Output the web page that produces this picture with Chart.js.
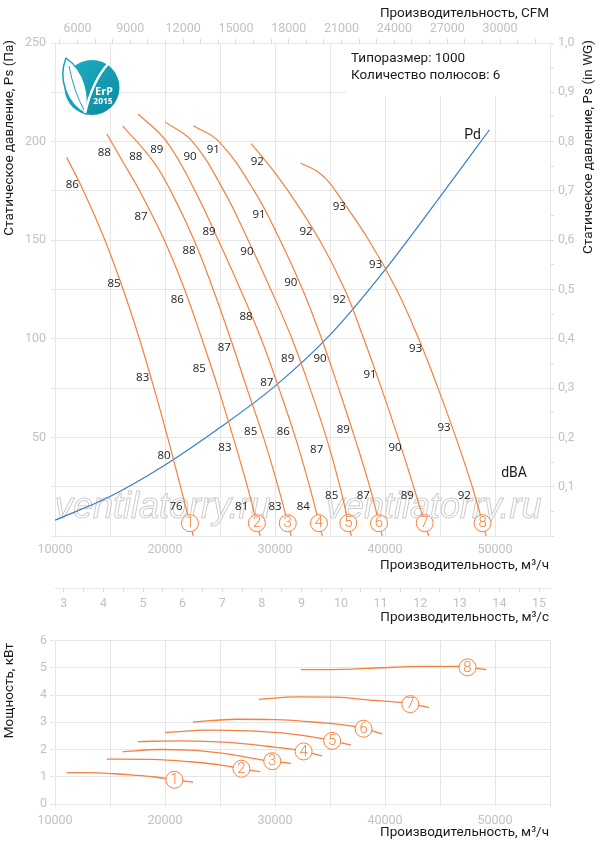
<!DOCTYPE html>
<html>
<head>
<meta charset="utf-8">
<script src="https://cdn.jsdelivr.net/npm/chart.js@4.4.0/dist/chart.umd.min.js"></script>
<style>
  html, body { margin: 0; padding: 0; background: #fff; }
  #wrap { position: relative; width: 597px; height: 850px; overflow: hidden; }
  #pressure { position: absolute; left: 0; top: 0; }
  #power { position: absolute; left: 0; top: 630px; }
</style>
</head>
<body>
<div id="wrap">
  <canvas id="pressure" width="597" height="630"></canvas>
  <canvas id="power" width="597" height="220"></canvas>
</div>
<script>
// --- data ---
// static pressure curves 1..8: flow, m3/h  and  Ps, Pa
var curveQ = [
  [11060, 12590, 14540, 16200, 17670, 19000, 20240, 21410, 22570],
  [14700, 16140, 17700, 19940, 21780, 23350, 24830, 26200, 27490, 28650],
  [16150, 18930, 20520, 22650, 24380, 25960, 27440, 28950, 30280, 31470],
  [17570, 20150, 22730, 24850, 26860, 28740, 30350, 31850, 33150, 34300],
  [20000, 22500, 25350, 27560, 29620, 31540, 33170, 34660, 35910, 36930],
  [22570, 24910, 28110, 30470, 32510, 34240, 35770, 37240, 38610, 39750],
  [27820, 29180, 31190, 34060, 36340, 38070, 39670, 41180, 42600, 43970],
  [32340, 33820, 34820, 35500, 38530, 41050, 43060, 44820, 46440, 47930, 49200]
];
var curvePa = [
  [192, 175, 150, 125, 100, 75, 50, 25, 0],
  [204, 190, 175, 150, 125, 100, 75, 50, 25, 0],
  [208, 190, 175, 150, 125, 100, 75, 50, 25, 0],
  [214, 200, 175, 150, 125, 100, 75, 50, 25, 0],
  [210, 200, 175, 150, 125, 100, 75, 50, 25, 0],
  [208, 200, 175, 150, 125, 100, 75, 50, 25, 0],
  [199, 190, 175, 150, 125, 100, 75, 50, 25, 0],
  [189, 185, 180, 175, 150, 125, 100, 75, 50, 25, 0]
];

// dynamic pressure Pd
var pdQ = [10000, 15000, 20000, 25000, 30000, 35000, 40000, 45000, 49500];
var pdPa = [8, 20, 36, 55, 76, 102, 135, 172, 206];

// noise level labels along each curve (flow, Pa, dBA)
var dbaQ = [
  [11570, 15360, 17970, 19910, 21000],
  [14480, 17820, 21120, 23120, 25450, 26970],
  [17340, 22180, 25390, 27790, 30000],
  [19250, 24000, 27360, 29250, 30750, 32570],
  [22270, 27450, 31150, 33790, 35150],
  [24390, 28550, 31430, 34090, 36210, 38030],
  [28390, 32820, 35850, 38640, 40910, 42030],
  [35850, 39150, 42790, 45360, 47210]
];
var dbaPa = [
  [178, 128, 80.5, 40.5, 15],
  [194.5, 162, 120, 85, 45, 15],
  [192.5, 144.5, 95.5, 53, 15],
  [196, 154.5, 111, 77.5, 53, 15],
  [192.5, 144, 90, 43.5, 20.5],
  [196, 163, 128.5, 90, 54, 20.5],
  [190, 154.5, 120, 82, 45, 20.5],
  [167, 137.5, 95, 55, 20.5]
];
var dbaLevel = [
  [86, 85, 83, 80, 76],
  [88, 87, 86, 85, 83, 81],
  [88, 88, 87, 85, 83],
  [89, 89, 88, 87, 86, 84],
  [90, 90, 89, 87, 85],
  [91, 91, 90, 90, 89, 87],
  [92, 92, 92, 91, 90, 89],
  [93, 93, 93, 93, 92]
];

// power curves 1..8: flow, m3/h  and  kW
var powerQ = [
  [11050, 13000, 15400, 17100, 18850, 20850, 22550],
  [14700, 18850, 22300, 25100, 27550, 28650],
  [16150, 19550, 22300, 25800, 28900, 31450],
  [17550, 21650, 25800, 29250, 32050, 34300],
  [20000, 24050, 27550, 31000, 34300, 36900],
  [22550, 26500, 29950, 33800, 37450, 39750],
  [28550, 32050, 35500, 39000, 41400, 44000],
  [32350, 36200, 39700, 43150, 46800, 49200]
];
var powerKw = [
  [1.15, 1.15, 1.11, 1.06, 1.00, 0.89, 0.80],
  [1.65, 1.64, 1.55, 1.43, 1.25, 1.18],
  [1.92, 2.00, 1.98, 1.83, 1.61, 1.49],
  [2.29, 2.32, 2.26, 2.12, 1.98, 1.77],
  [2.62, 2.71, 2.68, 2.59, 2.40, 2.16],
  [3.01, 3.11, 3.10, 3.00, 2.83, 2.57],
  [3.84, 3.93, 3.92, 3.80, 3.73, 3.54],
  [4.93, 4.94, 5.00, 5.05, 5.05, 4.93]
];

// tick labels
var flowTicks = [10000, 20000, 30000, 40000, 50000];
var cfmTicks = [6000, 9000, 12000, 15000, 18000, 21000, 24000, 27000, 30000];
var cfmRange = [4720, 32840];
var m3sTicks = [3, 4, 5, 6, 7, 8, 9, 10, 11, 12, 13, 14, 15];
var paTicks = [50, 100, 150, 200, 250];
var wgTicks = [0.1, 0.2, 0.3, 0.4, 0.5, 0.6, 0.7, 0.8, 0.9, 1.0];
var kwTicks = [0, 1, 2, 3, 4, 5, 6];

// --- styles ---
var orange = '#f5813f';
var blue = '#3a7dc6';
var gridColor = '#e6e6e6';
var tickColor = '#c2c2c2';
var textColor = '#1b1b1b';
var tickFont = { family: 'Roboto', size: 12.5 };

Chart.defaults.font.family = 'Roboto';

function stepTicks(from, to, step) {
  var out = [];
  for (var i = 0; from + i * step <= to + 1e-9; i++) {
    out.push({ value: Math.round((from + i * step) * 1000) / 1000 });
  }
  return out;
}
function hasTick(list, v) {
  return list.some(function (t) { return Math.abs(t - v) < 1e-6; });
}
function points(qs, vs) {
  return qs.map(function (q, j) { return { x: q, y: vs[j] }; });
}
function qAtPa(qs, ps, p) {
  for (var j = 1; j < ps.length; j++) {
    if (ps[j - 1] >= p && ps[j] <= p) {
      return qs[j - 1] + (qs[j] - qs[j - 1]) * (ps[j - 1] - p) / (ps[j - 1] - ps[j]);
    }
  }
  return qs[qs.length - 1];
}
function valAtQ(qs, vs, q) {
  for (var j = 1; j < qs.length; j++) {
    if (qs[j] >= q) return vs[j - 1] + (vs[j] - vs[j - 1]) * (q - qs[j - 1]) / (qs[j] - qs[j - 1]);
  }
  return vs[vs.length - 1];
}
function drawMarker(ctx, x, y, n) {
  ctx.save();
  ctx.beginPath();
  ctx.arc(x, y, 8.5, 0, Math.PI * 2);
  ctx.fillStyle = '#fff';
  ctx.fill();
  ctx.lineWidth = 1;
  ctx.strokeStyle = orange;
  ctx.stroke();
  ctx.fillStyle = orange;
  ctx.font = '300 15px Roboto';
  ctx.textAlign = 'center';
  ctx.textBaseline = 'middle';
  ctx.fillText(String(n), x, y + 0.5);
  ctx.restore();
}
function hTitle(ctx, text, right, y) {
  ctx.save();
  ctx.font = '13.5px Roboto';
  ctx.fillStyle = textColor;
  ctx.textAlign = 'right';
  ctx.textBaseline = 'middle';
  ctx.fillText(text, right, y);
  ctx.restore();
}
function vTitle(ctx, text, x, top) {
  ctx.save();
  ctx.translate(x, top);
  ctx.rotate(-Math.PI / 2);
  ctx.font = '13.5px Roboto';
  ctx.fillStyle = textColor;
  ctx.textAlign = 'right';
  ctx.textBaseline = 'middle';
  ctx.fillText(text, 0, 0);
  ctx.restore();
}
function drawLogo(ctx) {
  ctx.save();
  var g = ctx.createLinearGradient(64, 60, 120, 115);
  g.addColorStop(0, '#1fb0c4');
  g.addColorStop(1, '#0b8aa0');
  ctx.beginPath();
  ctx.arc(92, 87.5, 27.5, 0, Math.PI * 2);
  ctx.fillStyle = g;
  ctx.fill();
  // leaf
  ctx.beginPath();
  ctx.moveTo(66, 58);
  ctx.bezierCurveTo(58, 78, 66, 104, 86, 114);
  ctx.bezierCurveTo(90, 96, 86, 72, 66, 58);
  ctx.fillStyle = '#fff';
  ctx.fill();
  ctx.lineWidth = 1.5;
  ctx.strokeStyle = '#17a3bb';
  ctx.stroke();
  ctx.beginPath();
  ctx.moveTo(69, 66);
  ctx.quadraticCurveTo(74, 92, 84, 110);
  ctx.lineWidth = 1;
  ctx.stroke();
  // white stem
  ctx.beginPath();
  ctx.moveTo(85, 113);
  ctx.bezierCurveTo(90, 92, 97, 76, 108, 64);
  ctx.lineWidth = 2.5;
  ctx.strokeStyle = '#fff';
  ctx.stroke();
  ctx.fillStyle = '#fff';
  ctx.textAlign = 'center';
  ctx.textBaseline = 'middle';
  ctx.font = 'bold 11px "Open Sans"';
  ctx.fillText('ErP', 104, 91.5);
  ctx.font = 'bold 8.5px "Open Sans"';
  ctx.fillText('2015', 103, 101.5);
  ctx.restore();
}

var pressureDecor = {
  id: 'pressureDecor',
  beforeDatasetsDraw: function (chart) {
    var ctx = chart.ctx;
    ctx.save();
    // info box
    ctx.fillStyle = '#fff';
    ctx.fillRect(346, 44, 203.5, 52);
    ctx.fillStyle = textColor;
    ctx.font = '13.5px Roboto';
    ctx.textAlign = 'left';
    ctx.textBaseline = 'middle';
    ctx.fillText('Типоразмер: 1000', 351, 59);
    ctx.fillText('Количество полюсов: 6', 351, 76);
    // watermark
    ctx.font = 'italic 36px "Liberation Sans"';
    ctx.textBaseline = 'alphabetic';
    ctx.lineWidth = 1;
    ctx.strokeStyle = '#cdcdcd';
    ctx.fillStyle = 'rgba(255,255,255,0.55)';
    [55, 326].forEach(function (x) {
      ctx.fillText('ventilatorry.ru', x, 518);
      ctx.strokeText('ventilatorry.ru', x, 518);
    });
    ctx.restore();
    drawLogo(ctx);
  },
  afterDatasetsDraw: function (chart) {
    var ctx = chart.ctx;
    var sx = chart.scales.x, sy = chart.scales.y;
    ctx.save();
    ctx.fillStyle = textColor;
    ctx.font = '11.5px "Open Sans"';
    ctx.textAlign = 'center';
    ctx.textBaseline = 'middle';
    dbaQ.forEach(function (qs, i) {
      qs.forEach(function (q, j) {
        ctx.fillText(String(dbaLevel[i][j]), sx.getPixelForValue(q), sy.getPixelForValue(dbaPa[i][j]));
      });
    });
    ctx.font = '14px Roboto';
    ctx.fillText('Pd', sx.getPixelForValue(47970), sy.getPixelForValue(203));
    ctx.fillText('dBA', sx.getPixelForValue(51730), sy.getPixelForValue(31.5));
    ctx.restore();
    curveQ.forEach(function (qs, i) {
      var q = qAtPa(qs, curvePa[i], 6.5);
      drawMarker(ctx, sx.getPixelForValue(q), sy.getPixelForValue(6.5), i + 1);
    });
  },
  afterDraw: function (chart) {
    var ctx = chart.ctx;
    hTitle(ctx, 'Производительность, CFM', 549, 14);
    hTitle(ctx, 'Производительность, м³/ч', 549, 566);
    hTitle(ctx, 'Производительность, м³/с', 549, 618);
    vTitle(ctx, 'Статическое давление, Ps (Па)', 10, 40);
    vTitle(ctx, 'Статическое давление, Ps (in WG)', 589, 40);
  }
};

var pressureSets = curveQ.map(function (qs, i) {
  return {
    data: points(qs, curvePa[i]),
    borderColor: orange, borderWidth: 1.2, pointRadius: 0,
    tension: 0.4, xAxisID: 'x', yAxisID: 'y'
  };
});
pressureSets.push({
  data: points(pdQ, pdPa),
  borderColor: blue, borderWidth: 1.2, pointRadius: 0,
  cubicInterpolationMode: 'monotone', xAxisID: 'x', yAxisID: 'y'
});

new Chart(document.getElementById('pressure'), {
  type: 'line',
  data: { datasets: pressureSets },
  options: {
    responsive: false,
    animation: false,
    parsing: false,
    layout: { padding: 0 },
    plugins: { legend: { display: false }, tooltip: { enabled: false } },
    scales: {
      x: {
        type: 'linear', position: 'bottom', weight: 0, min: 10000, max: 55000,
        afterBuildTicks: function (s) { s.ticks = stepTicks(10000, 55000, 5000); },
        afterFit: function (s) { s.height = 52; },
        ticks: {
          autoSkip: false, maxRotation: 0, padding: 6, color: tickColor, font: tickFont,
          callback: function (v) { return hasTick(flowTicks, v) ? String(v) : ''; }
        },
        grid: { color: gridColor, drawTicks: false },
        border: { display: false }
      },
      xs: {
        type: 'linear', position: 'bottom', weight: 1, min: 10000 / 3600, max: 55000 / 3600,
        afterBuildTicks: function (s) { s.ticks = stepTicks(3, 15, 0.5); },
        afterFit: function (s) { s.height = 42; },
        ticks: {
          autoSkip: false, maxRotation: 0, padding: 4, color: tickColor, font: tickFont,
          callback: function (v) { return hasTick(m3sTicks, v) ? String(v) : ''; }
        },
        grid: { drawOnChartArea: false, tickLength: 4, color: '#dcdcdc' },
        border: { display: true, color: gridColor }
      },
      xTop: {
        type: 'linear', position: 'top', min: cfmRange[0], max: cfmRange[1],
        afterBuildTicks: function (s) { s.ticks = stepTicks(5000, 32000, 1000); },
        afterFit: function (s) { s.height = 43; },
        ticks: {
          autoSkip: false, maxRotation: 0, padding: 3, color: tickColor, font: tickFont,
          callback: function (v) { return hasTick(cfmTicks, v) ? String(v) : ''; }
        },
        grid: { drawOnChartArea: false, tickLength: 4, color: '#dcdcdc' },
        border: { display: true, color: gridColor }
      },
      y: {
        type: 'linear', position: 'left', min: 0, max: 250,
        afterBuildTicks: function (s) { s.ticks = stepTicks(0, 250, 25); },
        afterFit: function (s) { s.width = 55; },
        ticks: {
          autoSkip: false, padding: 5, color: tickColor, font: tickFont,
          callback: function (v) { return hasTick(paTicks, v) ? String(v) : ''; }
        },
        grid: { color: gridColor, tickLength: 4 },
        border: { display: false }
      },
      y2: {
        type: 'linear', position: 'right', min: 0, max: 1,
        afterBuildTicks: function (s) { s.ticks = stepTicks(0, 1, 0.05); },
        afterFit: function (s) { s.width = 47; },
        ticks: {
          autoSkip: false, padding: 4, color: tickColor, font: tickFont,
          callback: function (v) { return hasTick(wgTicks, v) ? v.toFixed(1).replace('.', ',') : ''; }
        },
        grid: { drawOnChartArea: false, tickLength: 4, color: '#dcdcdc' },
        border: { display: true, color: gridColor }
      }
    }
  },
  plugins: [pressureDecor]
});

// --- power chart ---
var powerDecor = {
  id: 'powerDecor',
  afterDatasetsDraw: function (chart) {
    var sx = chart.scales.x, sy = chart.scales.y;
    powerQ.forEach(function (qs, i) {
      var q = qs[qs.length - 1] - 1700;
      drawMarker(chart.ctx, sx.getPixelForValue(q), sy.getPixelForValue(valAtQ(qs, powerKw[i], q)), i + 1);
    });
  },
  afterDraw: function (chart) {
    hTitle(chart.ctx, 'Производительность, м³/ч', 549, 203);
    vTitle(chart.ctx, 'Мощность, кВт', 10, 13);
  }
};

new Chart(document.getElementById('power'), {
  type: 'line',
  data: {
    datasets: powerQ.map(function (qs, i) {
      return {
        data: points(qs, powerKw[i]),
        borderColor: orange, borderWidth: 1.3, pointRadius: 0,
        cubicInterpolationMode: 'monotone'
      };
    })
  },
  options: {
    responsive: false,
    animation: false,
    parsing: false,
    layout: { padding: { top: 10.5, right: 47, left: 0, bottom: 0 } },
    plugins: { legend: { display: false }, tooltip: { enabled: false } },
    scales: {
      x: {
        type: 'linear', min: 10000, max: 55000,
        afterBuildTicks: function (s) { s.ticks = stepTicks(10000, 55000, 5000); },
        afterFit: function (s) { s.height = 46; },
        ticks: {
          autoSkip: false, maxRotation: 0, padding: 6, color: tickColor, font: tickFont,
          callback: function (v) { return hasTick(flowTicks, v) ? String(v) : ''; }
        },
        grid: { color: gridColor, tickLength: 3 },
        border: { display: false }
      },
      y: {
        type: 'linear', min: 0, max: 6,
        afterBuildTicks: function (s) { s.ticks = stepTicks(0, 6, 1); },
        afterFit: function (s) { s.width = 55; },
        ticks: {
          autoSkip: false, padding: 3, color: tickColor, font: tickFont,
          callback: function (v) { return hasTick(kwTicks, v) ? String(v) : ''; }
        },
        grid: { color: gridColor, tickLength: 5 },
        border: { display: false }
      }
    }
  },
  plugins: [powerDecor]
});
</script>
</body>
</html>
